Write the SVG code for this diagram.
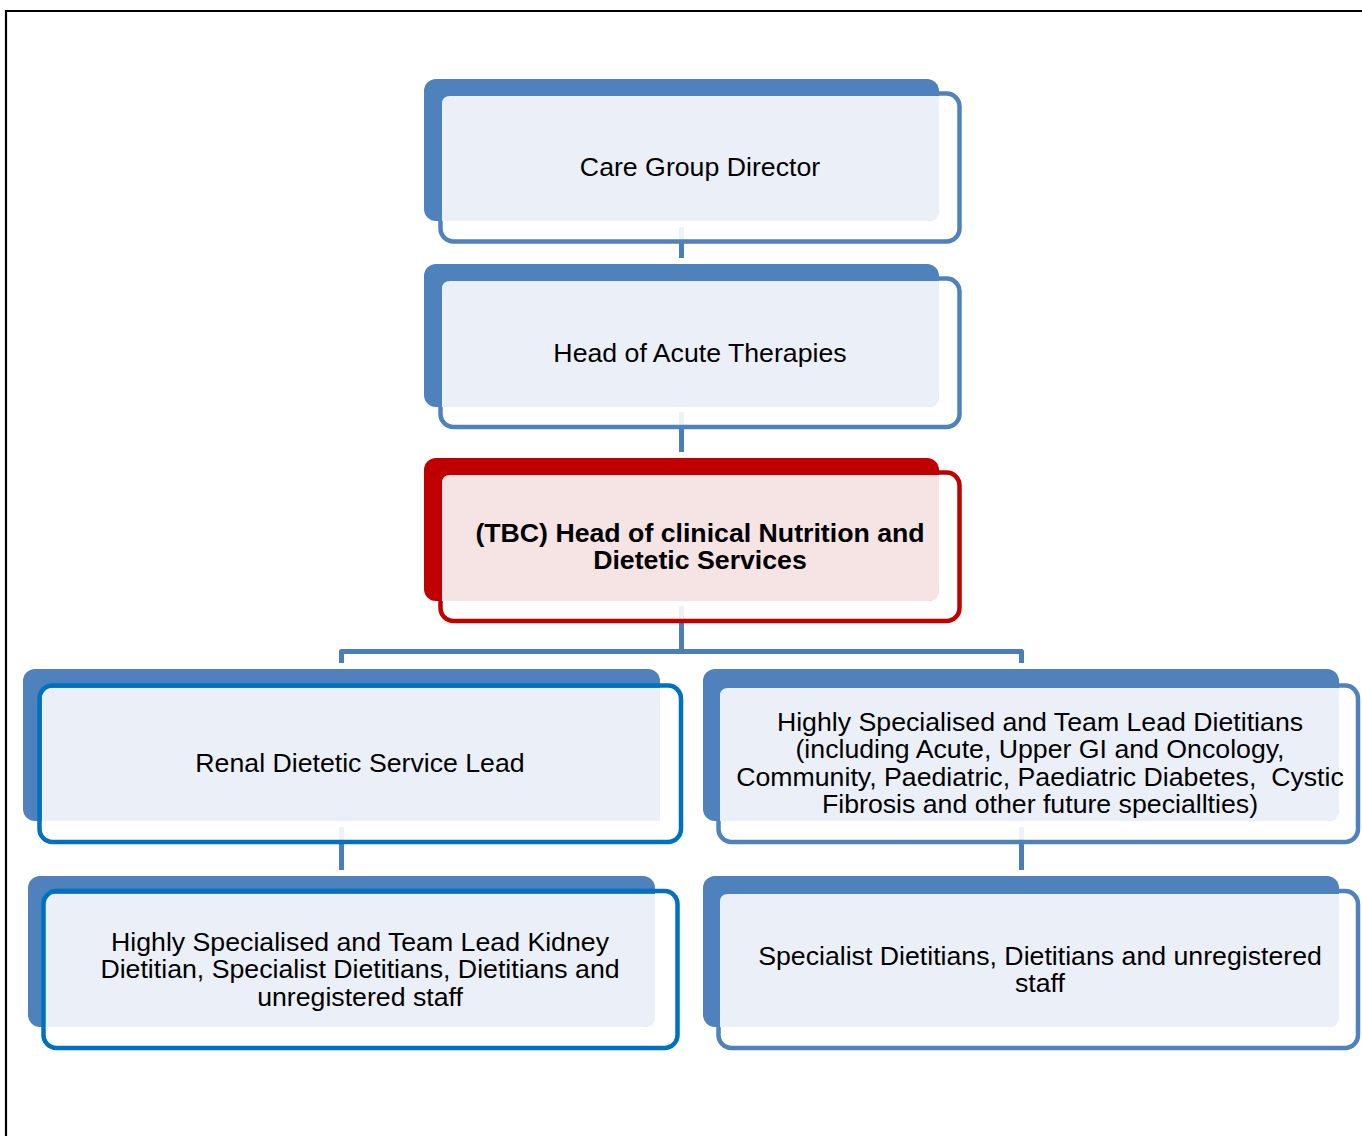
<svg xmlns="http://www.w3.org/2000/svg" width="1362" height="1136" viewBox="0 0 1362 1136">
<style>
.frame{fill:none;stroke:#000;stroke-width:2.2}
.conn{fill:none;stroke:#4A7EBB;stroke-width:5;stroke-linejoin:round}
.wfill{fill:#fff;fill-opacity:0.9}
.bback{fill:#4F81BD}
.blight{fill:#EBF0F8}
.bline{fill:none;stroke:#4F81BD;stroke-width:4.5}
.cline{fill:none;stroke:#0070C0;stroke-width:4.5}
.rback{fill:#C00000}
.rlight{fill:#F6E4E5}
.rline{fill:none;stroke:#C00000;stroke-width:4.5}
text{font-family:"Liberation Sans",Arial,sans-serif;font-size:26.7px;fill:#000;text-anchor:middle;white-space:pre}
.b{font-weight:bold}
</style>
<path class="frame" d="M6,1136 V11 H1362"/>
<g id="connectors">
<path class="conn" d="M681.5,227 V258"/>
<path class="conn" d="M681.5,412 V452"/>
<path class="conn" d="M681.5,606 V651.5 H341.5 V663"/>
<path class="conn" d="M681.5,651.5 H1021.5 V663"/>
<path class="conn" d="M341.5,827 V870"/>
<path class="conn" d="M1021.5,827 V870"/>
</g>
<g id="node-care-group-director">
<rect class="wfill" x="440.5" y="93.5" width="519" height="148" rx="13"/>
<rect class="bline" x="440.5" y="93.5" width="519" height="148" rx="13"/>
<rect class="bback" x="424" y="79" width="515" height="142" rx="12"/>
<path class="blight" d="M450,96 H939 V211 Q939,221 929,221 H442 V104 Q442,96 450,96 Z"/>
<text x="700" y="175.5">Care Group Director</text>
</g>
<g id="node-head-acute">
<rect class="wfill" x="440.5" y="278.5" width="519" height="148.5" rx="13"/>
<rect class="bline" x="440.5" y="278.5" width="519" height="148.5" rx="13"/>
<rect class="bback" x="424" y="264" width="515" height="143" rx="12"/>
<path class="blight" d="M450,281 H939 V397 Q939,407 929,407 H442 V289 Q442,281 450,281 Z"/>
<text x="700" y="361.5">Head of Acute Therapies</text>
</g>
<g id="node-head-nutrition">
<rect class="wfill" x="440.5" y="472.5" width="519" height="148.5" rx="13"/>
<rect class="rline" x="440.5" y="472.5" width="519" height="148.5" rx="13"/>
<rect class="rback" x="424" y="458" width="515" height="143" rx="12"/>
<path class="rlight" d="M450,475 H939 V591 Q939,601 929,601 H442 V483 Q442,475 450,475 Z"/>
<text class="b" x="700" y="541.5">(TBC) Head of clinical Nutrition and</text>
<text class="b" x="700" y="568.5">Dietetic Services</text>
</g>
<g id="node-renal-lead">
<rect class="wfill" x="39.5" y="685.5" width="641.5" height="156.5" rx="13"/>
<rect class="bback" x="23" y="669" width="637" height="152" rx="12"/>
<path class="blight" d="M50,688 H660 V821 H42 V696 Q42,688 50,688 Z"/>
<rect class="cline" x="39.5" y="685.5" width="641.5" height="156.5" rx="13"/>
<text x="360" y="771.5">Renal Dietetic Service Lead</text>
</g>
<g id="node-team-lead">
<rect class="wfill" x="718.5" y="685.5" width="639.5" height="156.5" rx="13"/>
<rect class="bline" x="718.5" y="685.5" width="639.5" height="156.5" rx="13"/>
<rect class="bback" x="703" y="669" width="636" height="152" rx="12"/>
<path class="blight" d="M728,688 H1339 V811 Q1339,821 1329,821 H720 V696 Q720,688 728,688 Z"/>
<text x="1040" y="730.5">Highly Specialised and Team Lead Dietitians</text>
<text x="1040" y="758">(including Acute, Upper GI and Oncology,</text>
<text x="1040" y="785.5">Community, Paediatric, Paediatric Diabetes,  Cystic</text>
<text x="1040" y="813">Fibrosis and other future speciallties)</text>
</g>
<g id="node-kidney-staff">
<rect class="wfill" x="43.5" y="891" width="634" height="157" rx="13"/>
<rect class="bback" x="28" y="876" width="627" height="151" rx="12"/>
<path class="blight" d="M53,894 H655 V1017 Q655,1027 645,1027 H45 V902 Q45,894 53,894 Z"/>
<rect class="cline" x="43.5" y="891" width="634" height="157" rx="13"/>
<text x="360" y="950.5">Highly Specialised and Team Lead Kidney</text>
<text x="360" y="978">Dietitian, Specialist Dietitians, Dietitians and</text>
<text x="360" y="1005.5">unregistered staff</text>
</g>
<g id="node-specialist-staff">
<rect class="wfill" x="718.5" y="891" width="639.5" height="157" rx="13"/>
<rect class="bline" x="718.5" y="891" width="639.5" height="157" rx="13"/>
<rect class="bback" x="703" y="876" width="636" height="151" rx="12"/>
<path class="blight" d="M728,894 H1339 V1017 Q1339,1027 1329,1027 H720 V902 Q720,894 728,894 Z"/>
<text x="1040" y="964.5">Specialist Dietitians, Dietitians and unregistered</text>
<text x="1040" y="992">staff</text>
</g>
</svg>
